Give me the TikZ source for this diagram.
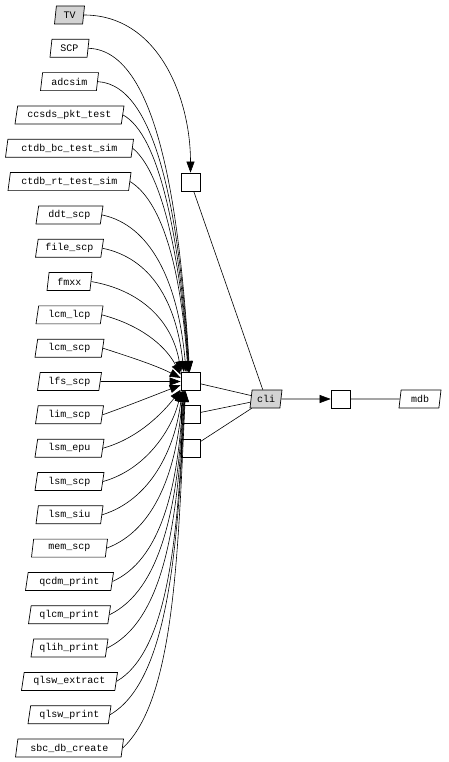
\documentclass[tikz,border=0pt]{standalone}
\usepackage{fontspec}
\setmonofont{Liberation Mono}
\usetikzlibrary{shapes.geometric,arrows.meta}
\definecolor{lgray}{RGB}{211,211,211}
\begin{document}
\begin{tikzpicture}[x=1pt,y=1pt,
  para/.style={trapezium, trapezium left angle=74, trapezium right angle=106,
    trapezium stretches body, draw, line width=0.7pt, minimum height=18pt,
    inner xsep=2pt, inner ysep=0pt, font=\ttfamily\fontsize{10}{12}\selectfont},
  sq/.style={draw, line width=0.7pt, minimum width=19pt, minimum height=18pt, inner sep=0pt},
  edge/.style={line width=0.6pt, -{Triangle[length=11pt,width=8pt]}},
  link/.style={line width=0.6pt}]
\useasboundingbox (0,0) rectangle (448,-762);

% left nodes
\node[para, fill=lgray, minimum width=30pt] (n0) at (69.5,-15) {TV};
\foreach \i/\w/\t in {1/39/SCP, 2/58/adcsim, 3/109/ccsds\_pkt\_test,
  4/128/ctdb\_bc\_test\_sim, 5/123/ctdb\_rt\_test\_sim, 6/67/ddt\_scp,
  7/68/file\_scp, 8/45/fmxx, 9/67/lcm\_lcp, 10/69/lcm\_scp, 11/64/lfs\_scp,
  12/68/lim\_scp, 13/69/lsm\_epu, 14/69/lsm\_scp, 15/67/lsm\_siu,
  16/76/mem\_scp, 17/88/qcdm\_print, 18/82/qlcm\_print, 19/77/qlih\_print,
  20/96/qlsw\_extract, 21/83/qlsw\_print, 22/108/sbc\_db\_create}
  \node[para, minimum width=\w pt] (n\i) at (69.5,{-15-33.32*\i}) {\t};

% boxes
\node[sq] (b1) at (190.5,-182) {};
\node[sq] (b2) at (190.5,-381.5) {};
\node[sq] (b3) at (190.5,-414.5) {};
\node[sq] (b4) at (190.5,-448) {};
\node[para, fill=lgray, minimum width=32pt] (cli) at (266,-399) {cli};
\node[sq] (b5) at (340.5,-399) {};
\node[para, minimum width=42pt] (mdb) at (420,-399) {mdb};

% edges
\draw[edge] (n0.east) to[out=0,in=90] (b1.north);
\draw[edge] (n1.east) .. controls (160,-50) and (180,-220) .. (b2.95);
\draw[edge] (n2.east) .. controls (160,-85) and (180,-230) .. (b2.97);
\draw[edge] (n3.east) .. controls (160,-135) and (180,-240) .. (b2.100);
\draw[edge] (n4.east) .. controls (160,-170) and (180,-250) .. (b2.102);
\draw[edge] (n5.east) .. controls (160,-200) and (180,-260) .. (b2.105);
\draw[edge] (n6.east) .. controls (150,-225) and (178,-280) .. (b2.115);
\draw[edge] (n7.east) .. controls (150,-258) and (176,-300) .. (b2.125);
\draw[edge] (n8.east) .. controls (140,-290) and (172,-320) .. (b2.135);
\draw[edge] (n9.east) .. controls (140,-325) and (165,-345) .. (b2.145);
\draw[edge] (n10.east) .. controls (130,-357) and (155,-365) .. (b2.160);
\draw[edge] (n11.east) -- (b2.west);
\draw[edge] (n12.east) .. controls (130,-405) and (155,-395) .. (b2.200);
\draw[edge] (n13.east) .. controls (140,-438) and (165,-410) .. (b2.220);
\draw[edge] (n14.east) .. controls (145,-470) and (172,-430) .. (b2.225);
\draw[edge] (n15.east) .. controls (150,-500) and (175,-450) .. (b2.228);
\draw[edge] (n16.east) .. controls (155,-530) and (177,-470) .. (b2.230);
\draw[edge] (n17.east) .. controls (160,-560) and (178,-490) .. (b2.232);
\draw[edge] (n18.east) .. controls (160,-590) and (178,-510) .. (b2.234);
\draw[edge] (n19.east) .. controls (165,-620) and (178,-520) .. (b2.236);
\draw[edge] (n20.east) .. controls (170,-650) and (178,-530) .. (b2.238);
\draw[edge] (n21.east) .. controls (170,-680) and (178,-540) .. (b2.240);
\draw[edge] (n22.east) .. controls (175,-700) and (178,-550) .. (b2.242);

\draw[link] (b1) -- (cli);
\draw[link] (b2) -- (cli);
\draw[link] (b3) -- (cli);
\draw[link] (b4) -- (cli);
\draw[edge] (cli) -- (b5);
\draw[link] (b5) -- (mdb);
\end{tikzpicture}
\end{document}
